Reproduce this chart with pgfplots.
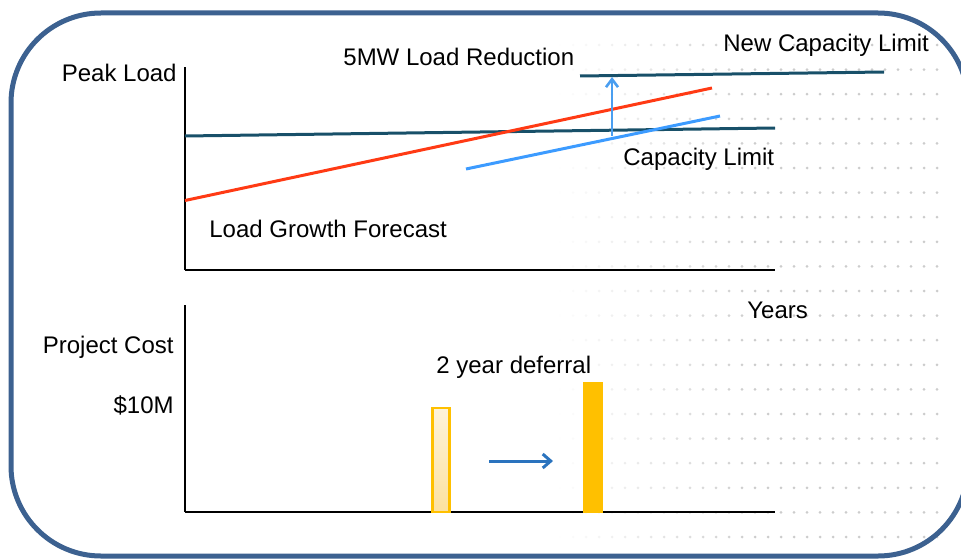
\documentclass[border=0pt]{standalone}
\usepackage{fontspec}
\setmainfont{Liberation Sans}
\usepackage{pgfplots}
\pgfplotsset{compat=1.18}
\usetikzlibrary{arrows.meta}

\definecolor{frame}{RGB}{60,97,144}
\definecolor{capteal}{RGB}{24,80,105}
\definecolor{loadred}{RGB}{255,58,20}
\definecolor{newblue}{RGB}{60,155,255}
\definecolor{liftblue}{RGB}{74,158,240}
\definecolor{defblue}{RGB}{42,115,190}
\definecolor{gold}{RGB}{255,192,0}
\definecolor{cream}{RGB}{252,225,160}

\pgfplotsset{
  panel/.style={
    scale only axis,
    width=295pt,
    axis x line=bottom, axis y line=left,
    axis line style={-, line width=1.4pt, black},
    xtick=\empty, ytick=\empty,
    xmin=185, xmax=775,
    clip=false,
  }
}

\begin{document}
\begin{tikzpicture}[x=0.5pt, y=0.5pt, every node/.style={font=\fontsize{12}{14}\selectfont, inner sep=0pt}]
\useasboundingbox (0,0) rectangle (961,558);

% dotted texture on the right
\foreach \r in {0,...,20} {
  \foreach \c in {0,...,29} {
    \pgfmathsetmacro{\xx}{560+13*\c}
    \pgfmathsetmacro{\yy}{558-45-24.6*\r}
    \pgfmathsetmacro{\op}{min(1,max(0,(\xx-555)/200))}
    \fill[black!20, opacity=\op] (\xx,\yy) circle (1.5);
  }
}

% frame
\begin{scope}
\clip (0,0) rectangle (961,558);
\draw[frame, line width=2.5pt, rounded corners=45pt] (11,545) rectangle (968,2);
\end{scope}

% top panel: peak load
\begin{axis}[panel, at={(185,288)}, anchor=south west, height=101.5pt, ymin=0, ymax=203]
\addplot[capteal, line width=1.5pt] coordinates {(185,134) (775,142)};
\addplot[capteal, line width=1.5pt] coordinates {(580,194) (884,198)};
\addplot[loadred, line width=1.5pt] coordinates {(185,69.5) (712,182)};
\addplot[newblue, line width=1.5pt] coordinates {(466,101) (720,154)};
\addplot[liftblue, line width=1.3pt, -{Straight Barb[length=4pt, width=6pt]}] coordinates {(612,134) (612,193)};
\end{axis}

% bottom panel: project cost
\begin{axis}[panel, at={(185,46)}, anchor=south west, height=103.5pt, ymin=0, ymax=207]
\addplot[ybar, bar width=8.5pt, draw=gold, line width=1.1pt, top color=cream!40, bottom color=cream] coordinates {(441,104)};
\addplot[ybar, bar width=8.5pt, draw=gold, line width=1.1pt, fill=gold] coordinates {(593,129)};
\addplot[defblue, line width=1.5pt, -{Straight Barb[length=4pt, width=7pt]}] coordinates {(489,51) (553,51)};
\end{axis}

% labels
\node[anchor=base east] at (177,476) {Peak Load};
\node[anchor=base west] at (343,492) {5MW Load Reduction};
\node[anchor=base west] at (723,506) {New Capacity Limit};
\node[anchor=base west] at (623,393) {Capacity Limit};
\node[anchor=base west] at (209,321) {Load Growth Forecast};
\node[anchor=base west] at (747,240) {Years};
\node[anchor=base east] at (174,205) {Project Cost};
\node[anchor=base east] at (174,145) {\$10M};
\node[anchor=base west] at (436,185) {2 year deferral};
\end{tikzpicture}
\end{document}
